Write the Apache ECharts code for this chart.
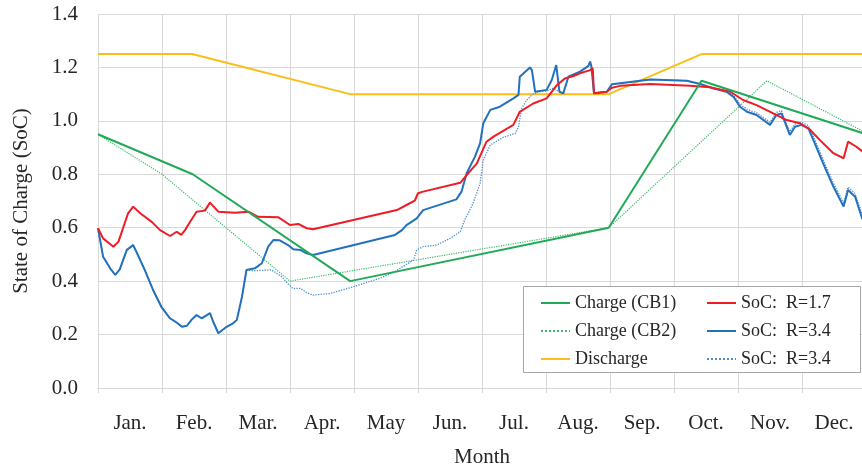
<!DOCTYPE html>
<html>
<head>
<meta charset="utf-8">
<script src="https://cdn.jsdelivr.net/npm/echarts@6/dist/echarts.min.js"></script>
<style>
  html, body { margin: 0; padding: 0; background: #fff; }
  #chart { width: 862px; height: 468px; }
</style>
</head>
<body>
<div id="chart"></div>
<script>
var months = ['Jan.', 'Feb.', 'Mar.', 'Apr.', 'May', 'Jun.', 'Jul.', 'Aug.', 'Sep.', 'Oct.', 'Nov.', 'Dec.'];

// x = month position (0 = start of Jan, 12 = end of Dec), y = SoC
var discharge = [[0, 1.25], [1.47, 1.25], [3.94, 1.10], [7.98, 1.10], [9.43, 1.25], [12, 1.25]];
var chargeCB1 = [[0, 0.95], [1.48, 0.80], [3.94, 0.40], [7.98, 0.60], [9.43, 1.15], [12, 0.95]];
var chargeCB2 = [[0, 0.95], [1.0, 0.80], [3.0, 0.40], [7.98, 0.60], [10.45, 1.15], [12, 0.955]];

var socR17 = [
    [0, 0.598], [0.08, 0.56], [0.24, 0.529], [0.32, 0.548], [0.47, 0.654], [0.55, 0.679],
    [0.66, 0.654], [0.84, 0.622], [0.97, 0.591], [1.125, 0.569], [1.23, 0.585], [1.30, 0.573],
    [1.36, 0.591], [1.44, 0.622], [1.54, 0.660], [1.67, 0.664], [1.75, 0.694], [1.88, 0.660],
    [2.14, 0.656], [2.35, 0.660], [2.50, 0.641], [2.82, 0.639], [3.0, 0.610], [3.13, 0.614],
    [3.26, 0.598], [3.36, 0.594], [4.67, 0.666], [4.82, 0.685], [4.95, 0.701], [5.0, 0.729],
    [5.08, 0.735], [5.66, 0.768], [5.76, 0.797], [5.92, 0.841], [6.07, 0.922], [6.18, 0.941],
    [6.49, 0.985], [6.59, 1.034], [6.80, 1.065], [7.01, 1.084], [7.17, 1.134], [7.30, 1.159],
    [7.43, 1.168], [7.53, 1.178], [7.69, 1.190], [7.73, 1.197], [7.75, 1.103], [7.95, 1.109],
    [8.03, 1.124], [8.16, 1.131], [8.62, 1.138], [9.25, 1.131], [9.56, 1.126], [9.88, 1.109],
    [10.08, 1.078], [10.29, 1.059], [10.55, 1.028], [10.76, 1.003], [10.97, 0.991], [11.13, 0.966],
    [11.28, 0.928], [11.49, 0.879], [11.65, 0.860], [11.72, 0.922], [11.85, 0.903], [12, 0.875]
];

var socR34 = [
    [0, 0.598], [0.08, 0.491], [0.19, 0.448], [0.27, 0.423], [0.34, 0.444], [0.45, 0.517],
    [0.55, 0.535], [0.60, 0.510], [0.73, 0.442], [0.86, 0.367], [0.99, 0.304], [1.125, 0.261],
    [1.23, 0.245], [1.31, 0.229], [1.39, 0.233], [1.46, 0.255], [1.54, 0.273], [1.62, 0.261],
    [1.75, 0.280], [1.80, 0.248], [1.88, 0.205], [2.01, 0.229], [2.11, 0.242], [2.17, 0.255],
    [2.25, 0.342], [2.32, 0.442], [2.45, 0.448], [2.56, 0.467], [2.66, 0.529], [2.74, 0.554],
    [2.84, 0.553], [2.97, 0.535], [3.05, 0.519], [3.16, 0.517], [3.26, 0.504], [3.36, 0.498],
    [4.64, 0.573], [4.75, 0.591], [4.82, 0.610], [4.98, 0.635], [5.08, 0.666], [5.60, 0.706],
    [5.68, 0.735], [5.76, 0.804], [5.89, 0.866], [5.97, 0.916], [6.02, 0.991], [6.13, 1.041],
    [6.28, 1.053], [6.49, 1.084], [6.57, 1.097], [6.59, 1.165], [6.75, 1.200], [6.78, 1.190],
    [6.83, 1.109], [7.01, 1.116], [7.09, 1.153], [7.16, 1.209], [7.21, 1.109], [7.27, 1.103],
    [7.35, 1.165], [7.53, 1.184], [7.66, 1.205], [7.69, 1.222], [7.71, 1.203], [7.75, 1.103],
    [7.95, 1.109], [8.03, 1.137], [8.16, 1.141], [8.63, 1.155], [9.20, 1.150], [9.41, 1.138],
    [9.61, 1.122], [9.82, 1.109], [9.93, 1.090], [10.03, 1.053], [10.14, 1.034], [10.29, 1.022],
    [10.50, 0.985], [10.60, 1.022], [10.68, 1.028], [10.73, 0.997], [10.81, 0.947], [10.89, 0.978],
    [10.99, 0.985], [11.10, 0.972], [11.20, 0.916], [11.33, 0.841], [11.49, 0.754], [11.65, 0.679],
    [11.72, 0.741], [11.83, 0.716], [11.94, 0.635], [12, 0.62]
];

var socR34b = [
    [0, 0.598], [0.08, 0.491], [0.19, 0.448], [0.27, 0.423], [0.34, 0.444], [0.45, 0.517],
    [0.55, 0.535], [0.60, 0.510], [0.73, 0.442], [0.86, 0.367], [0.99, 0.304], [1.125, 0.261],
    [1.23, 0.245], [1.31, 0.229], [1.39, 0.233], [1.46, 0.255], [1.54, 0.273], [1.62, 0.261],
    [1.75, 0.280], [1.80, 0.248], [1.88, 0.205], [2.01, 0.229], [2.11, 0.242], [2.17, 0.255],
    [2.25, 0.342], [2.32, 0.442], [2.45, 0.439], [2.71, 0.442], [2.87, 0.417], [2.95, 0.395],
    [3.04, 0.373], [3.16, 0.373], [3.26, 0.357], [3.36, 0.348], [3.63, 0.354], [3.99, 0.379],
    [4.41, 0.411], [4.64, 0.435], [4.80, 0.460], [4.93, 0.479], [4.98, 0.517], [5.08, 0.529],
    [5.29, 0.535], [5.50, 0.560], [5.66, 0.585], [5.73, 0.629], [5.86, 0.691], [5.97, 0.766],
    [6.02, 0.853], [6.13, 0.910], [6.33, 0.938], [6.52, 0.953], [6.57, 0.978], [6.62, 1.047],
    [6.70, 1.078], [6.78, 1.097], [6.88, 1.109], [7.01, 1.112], [7.11, 1.122], [7.21, 1.109],
    [7.27, 1.103], [7.35, 1.165], [7.53, 1.184], [7.66, 1.205], [7.69, 1.222], [7.71, 1.203],
    [7.75, 1.103], [7.95, 1.109], [8.03, 1.137], [8.16, 1.141], [8.63, 1.155], [9.20, 1.150],
    [9.41, 1.138], [9.61, 1.122], [9.82, 1.109], [9.93, 1.095], [10.03, 1.062], [10.14, 1.044],
    [10.29, 1.030], [10.50, 0.995], [10.60, 1.032], [10.68, 1.038], [10.73, 1.007], [10.81, 0.960],
    [10.89, 0.988], [10.99, 0.995], [11.10, 0.982], [11.20, 0.930], [11.33, 0.855], [11.49, 0.768],
    [11.65, 0.692], [11.72, 0.752], [11.83, 0.728], [11.94, 0.648], [12, 0.632]
];

var chart = echarts.init(document.getElementById('chart'));
var serif = '"Liberation Serif", "Times New Roman", serif';
var gridGray = '#d9d9d9';

function lineSeries(name, data, color, width, type) {
    return {
        name: name,
        type: 'line',
        xAxisIndex: 0,
        data: data,
        symbol: 'none',
        animation: false,
        lineStyle: { color: color, width: width, type: type || 'solid' },
        itemStyle: { color: color }
    };
}

function legendCol(left, names) {
    return {
        z: 20, orient: 'vertical', left: left, top: 288,
        itemWidth: 29, itemHeight: 14, itemGap: 8,
        itemStyle: { opacity: 0 },
        textStyle: { fontFamily: serif, fontSize: 18, color: '#262626', lineHeight: 20 },
        data: names
    };
}

chart.setOption({
    animation: false,
    grid: { left: 98, top: 14, width: 768, height: 374, outerBoundsMode: 'none', containLabel: false },
    graphic: [{
        type: 'rect',
        z: 10,
        shape: { x: 523.5, y: 286.5, width: 337, height: 86 },
        style: { fill: '#fff', stroke: '#a6a6a6', lineWidth: 1 }
    }],
    legend: [
        legendCol(535, ['Charge (CB1)', 'Charge (CB2)', 'Discharge']),
        legendCol(701, ['SoC:  R=1.7', 'SoC:  R=3.4', 'SoC:  R=3.4 '])
    ],
    xAxis: [
        {
            type: 'value', min: 0, max: 12, interval: 1,
            axisLine: { show: true, lineStyle: { color: gridGray } },
            axisTick: { show: true, length: 5, lineStyle: { color: gridGray } },
            axisLabel: { show: false },
            splitLine: { show: true, lineStyle: { color: gridGray, width: 1 } }
        },
        {
            type: 'category', position: 'bottom', data: months, boundaryGap: true,
            axisLine: { show: false },
            axisTick: { show: false },
            splitLine: { show: false },
            axisLabel: { margin: 25, fontFamily: serif, fontSize: 21, color: '#262626' },
            name: 'Month', nameLocation: 'middle', nameGap: 59,
            nameTextStyle: { fontFamily: serif, fontSize: 21, color: '#262626' }
        }
    ],
    yAxis: {
        type: 'value', min: 0, max: 1.4, interval: 0.2,
        axisLine: { show: false },
        axisTick: { show: false },
        splitLine: { lineStyle: { color: gridGray, width: 1 } },
        axisLabel: {
            margin: 20, fontFamily: serif, fontSize: 21, color: '#262626',
            formatter: function (v) { return v.toFixed(1); }
        },
        name: 'State of Charge (SoC)', nameLocation: 'middle', nameGap: 66,
        nameTextStyle: { fontFamily: serif, fontSize: 21, color: '#262626' }
    },
    series: [
        lineSeries('Discharge', discharge, '#fbbd1a', 2),
        lineSeries('Charge (CB2)', chargeCB2, '#3cb96a', 1.2, 'dotted'),
        lineSeries('SoC:  R=3.4 ', socR34b, '#4a8ccc', 1.3, 'dotted'),
        lineSeries('SoC:  R=3.4', socR34, '#2271bd', 2),
        lineSeries('SoC:  R=1.7', socR17, '#ee1c25', 2),
        lineSeries('Charge (CB1)', chargeCB1, '#22a957', 2)
    ]
});
</script>
</body>
</html>
